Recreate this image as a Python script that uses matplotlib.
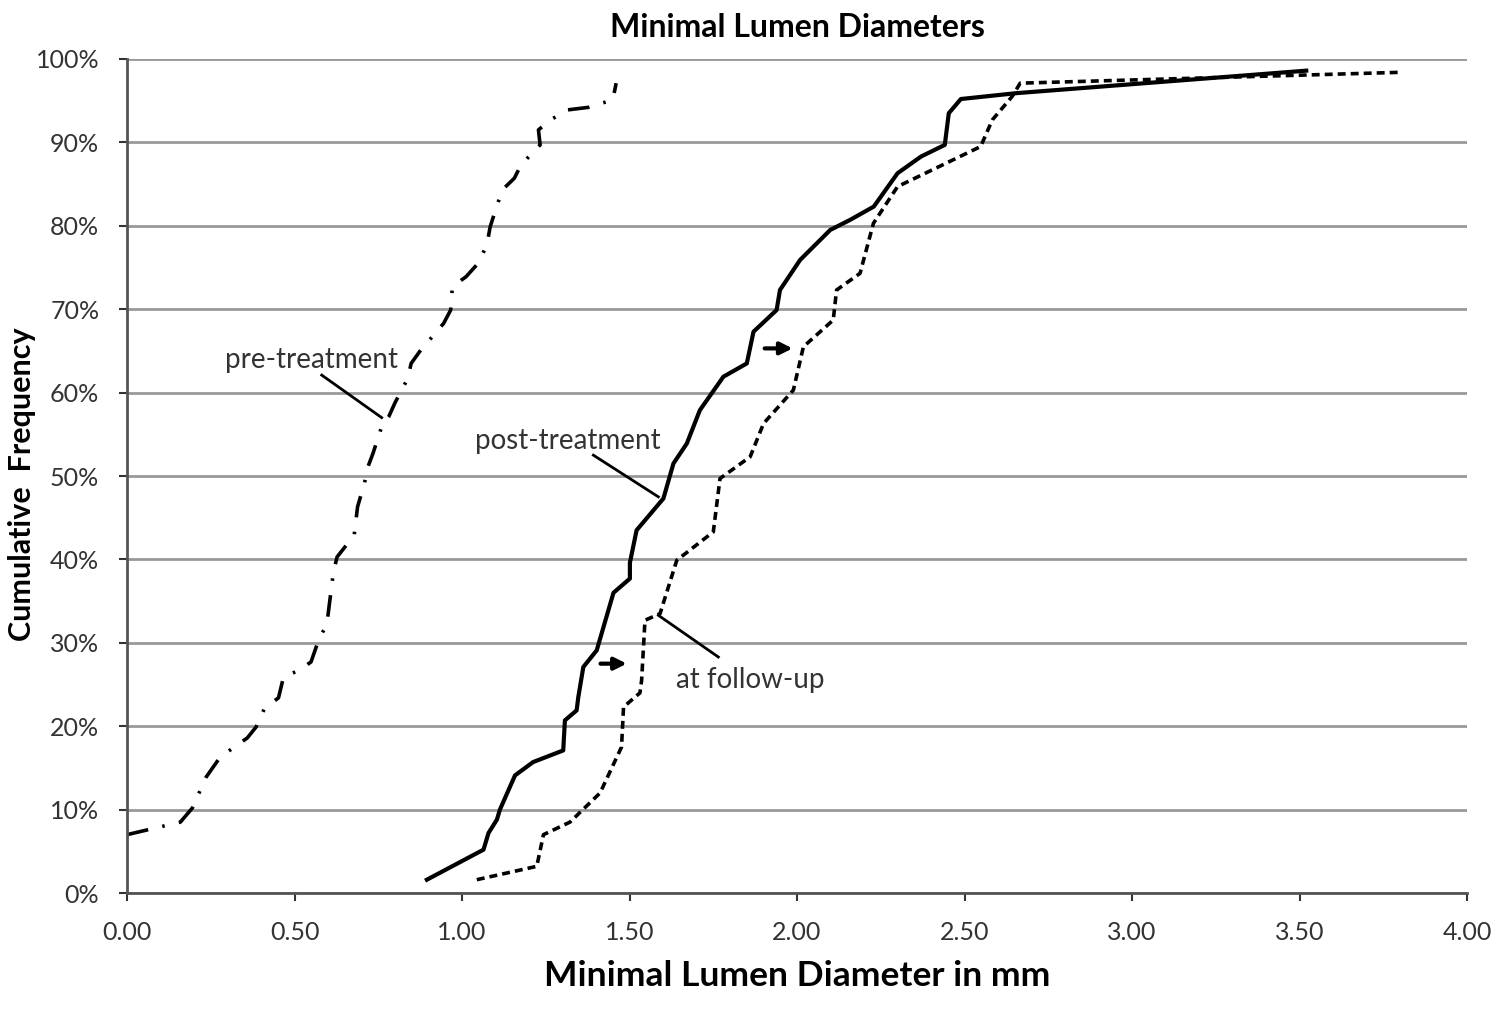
import numpy as np
import matplotlib
matplotlib.use('Agg')
from matplotlib import pyplot as plt

plt.rcParams['font.family'] = ['Lato', 'DejaVu Sans']

# Curva pré-tratamento (traço-ponto)
pre_x = [0.00, 0.159, 0.195, 0.236, 0.278, 0.359, 0.385, 0.411, 0.452, 0.467, 0.513, 0.549,
         0.575, 0.596, 0.616, 0.627, 0.678, 0.688, 0.709, 0.719, 0.734, 0.760, 0.781, 0.800,
         0.838, 0.848, 0.873, 0.945, 0.966, 0.971, 1.012, 1.048, 1.074, 1.084, 1.100, 1.120,
         1.156, 1.176, 1.233, 1.228, 1.264, 1.316, 1.377, 1.450, 1.460]
pre_y = [7.0, 8.5, 10.2, 13.9, 16.3, 18.6, 19.9, 22.2, 23.4, 25.9, 26.7, 27.7,
         30.7, 32.1, 38.5, 40.3, 42.9, 46.3, 49.2, 51.1, 52.7, 55.9, 57.1, 58.8,
         61.7, 63.5, 64.9, 68.3, 69.9, 72.7, 73.9, 75.5, 77.7, 79.9, 81.9, 84.3,
         85.7, 87.3, 89.7, 91.5, 92.7, 93.9, 94.2, 95.1, 97.1]

# Curva pós-tratamento (contínua)
post_x = [0.895, 1.064, 1.079, 1.104, 1.113, 1.158, 1.212, 1.302, 1.307, 1.342, 1.347, 1.362,
          1.402, 1.452, 1.501, 1.501, 1.521, 1.601, 1.631, 1.671, 1.710, 1.780, 1.850, 1.870,
          1.939, 1.949, 2.009, 2.099, 2.158, 2.229, 2.300, 2.370, 2.441, 2.453, 2.489, 2.654,
          3.520]
post_y = [1.6, 5.2, 7.2, 8.8, 10.0, 14.1, 15.7, 17.1, 20.7, 21.9, 23.5, 27.1,
          29.1, 36.0, 37.7, 39.6, 43.5, 47.3, 51.5, 53.9, 57.9, 61.9, 63.5, 67.3,
          69.9, 72.3, 75.9, 79.5, 80.7, 82.3, 86.3, 88.3, 89.7, 93.5, 95.2, 95.9,
          98.6]

# Curva no seguimento (tracejada)
fu_x = [1.044, 1.223, 1.243, 1.322, 1.412, 1.476, 1.482, 1.531, 1.536, 1.546, 1.591, 1.641,
        1.750, 1.770, 1.860, 1.900, 1.989, 2.019, 2.108, 2.118, 2.188, 2.228, 2.300, 2.548,
        2.583, 2.642, 2.666, 3.800]
fu_y = [1.6, 3.2, 7.0, 8.5, 12.0, 17.5, 22.3, 24.0, 25.5, 32.7, 33.5, 39.9,
        43.3, 49.7, 52.3, 56.3, 60.3, 65.5, 68.7, 72.3, 74.3, 80.3, 84.7, 89.5,
        92.7, 95.5, 97.1, 98.4]

xticks = [0.0, 0.5, 1.0, 1.5, 2.0, 2.5, 3.0, 3.5, 4.0]
yticks = list(range(0, 101, 10))

fig = plt.figure(figsize=(15.11, 10.24), dpi=100)
ax = fig.add_axes([0.0841, 0.1279, 0.8868, 0.8145])

ax.plot(pre_x, pre_y, color='black', lw=2.6, linestyle=(0, (6, 4, 0.7, 4)))
ax.plot(post_x, post_y, color='black', lw=3.0, linestyle='-')
ax.plot(fu_x, fu_y, color='black', lw=2.6, linestyle=(0, (2.2, 1.4)))

# Setas
ax.annotate('', xy=(1.50, 27.5), xytext=(1.405, 27.5),
            arrowprops=dict(arrowstyle='-|>', color='black', lw=3, mutation_scale=18))
ax.annotate('', xy=(1.995, 65.3), xytext=(1.895, 65.3),
            arrowprops=dict(arrowstyle='-|>', color='black', lw=3, mutation_scale=18))

# Rótulos com linha
ax.text(0.55, 63.9, 'pre-treatment', ha='center', va='center', fontsize=20, color='#333333')
ax.plot([0.581, 0.76], [62.1, 57.0], color='black', lw=2)
ax.text(1.317, 54.2, 'post-treatment', ha='center', va='center', fontsize=20, color='#333333')
ax.plot([1.392, 1.586], [52.5, 47.5], color='black', lw=2)
ax.text(1.86, 25.5, 'at follow-up', ha='center', va='center', fontsize=20, color='#333333')
ax.plot([1.765, 1.586], [28.3, 33.3], color='black', lw=2)

ax.set_xlim(0, 4)
ax.set_ylim(0, 100)
ax.set_xticks(xticks)
ax.set_xticklabels(['%.2f' % v for v in xticks])
ax.set_yticks(yticks)
ax.set_yticklabels(['%d%%' % v for v in yticks])
ax.tick_params(labelsize=18, colors='#333333', length=6, width=1.5)
ax.tick_params(axis='x', pad=14)
ax.tick_params(axis='y', pad=14)

ax.grid(axis='y', color='#999999', lw=2)
ax.set_axisbelow(True)
for s in ['top', 'right']:
    ax.spines[s].set_visible(False)
for s in ['left', 'bottom']:
    ax.spines[s].set_color('#555555')
    ax.spines[s].set_linewidth(2)

ax.set_title('Minimal Lumen Diameters', fontsize=23, fontweight='bold', pad=16)
ax.set_xlabel('Minimal Lumen Diameter in mm', fontsize=25.5, fontweight='bold', labelpad=12)
ax.set_ylabel('Cumulative  Frequency', fontsize=22, fontweight='bold')
ax.yaxis.set_label_coords(-0.068, 0.49)

fig.savefig('out.png', dpi=100)
